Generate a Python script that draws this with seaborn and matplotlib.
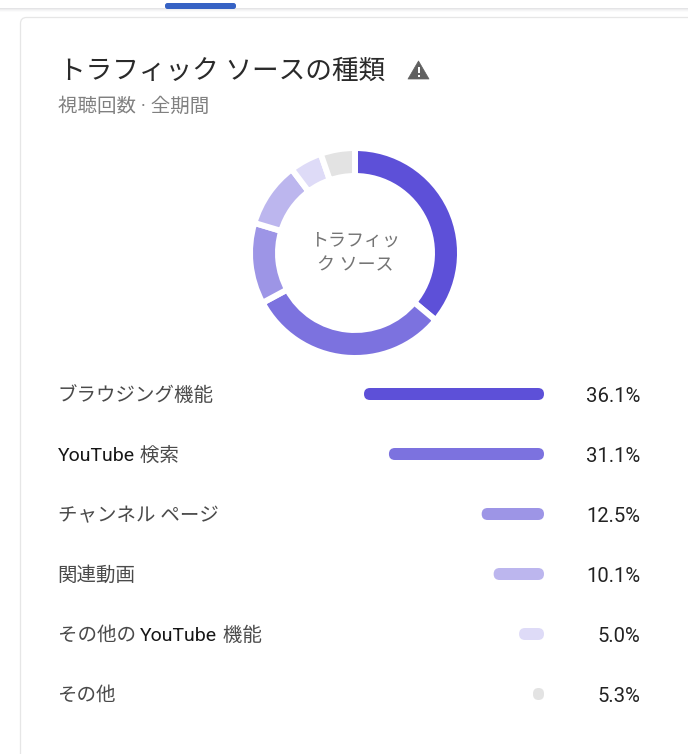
import matplotlib
matplotlib.use("Agg")
import matplotlib.pyplot as plt
from matplotlib.patches import FancyBboxPatch, Polygon, Rectangle
import pandas as pd
import re
import seaborn as sns

W, H = 688, 754

categories = ["ブラウジング機能", "YouTube 検索", "チャンネル ページ", "関連動画", "その他の YouTube 機能", "その他"]
shares = [36.1, 31.1, 12.5, 10.1, 5.0, 5.3]
# The last row is rendered as a short stub on the dashboard, whatever its share.
bar_lengths = [36.1, 31.1, 12.5, 10.1, 5.0, 2.2]
value_labels = ["36.1%", "31.1%", "12.5%", "10.1%", "5.0%", "5.3%"]
colors = ["#5D50D8", "#7C72DF", "#9D95E6", "#BCB6EE", "#DEDBF7", "#E3E3E3"]

sns.set_theme(style="white")
plt.rcParams["font.family"] = ["Roboto", "Noto Sans CJK JP", "DejaVu Sans"]

fig = plt.figure(figsize=(W / 100, H / 100), dpi=100, facecolor="white")


def px_axes(x0, y0, x1, y1, **kw):
    return fig.add_axes([x0 / W, 1 - y1 / H, (x1 - x0) / W, (y1 - y0) / H], **kw)


# Page chrome behind the card: header shadow, active tab marker, card outline.
bg = px_axes(0, 0, W, H)
bg.set_xlim(0, W)
bg.set_ylim(H, 0)
bg.axis("off")
for i, c in enumerate(["#E4E4E6", "#EEEEEF", "#F5F5F6", "#FBFBFB"]):
    bg.add_patch(Rectangle((0, 8 + i), W, 1, fc=c, ec="none"))
bg.add_patch(FancyBboxPatch((165, 3), 71, 6, boxstyle="round,pad=0,rounding_size=2.5", fc="#3662C4", ec="none"))
bg.add_patch(FancyBboxPatch((20.5, 17.5), 760, 800, boxstyle="round,pad=0,rounding_size=6", fc="white", ec="#E6E6E6", lw=0.9))

# Title block
bg.text(59, 71, "トラフィック ソースの種類", fontsize=19.2, color="#2A2A2A", va="center", ha="left")
bg.text(58, 107, "視聴回数 · 全期間", fontsize=14, color="#808080", va="center", ha="left")
bg.add_patch(Polygon([(408, 79), (429, 79), (418.5, 61)], closed=True, fc="#606060", ec="#606060", lw=0.5, joinstyle="round"))
bg.add_patch(Rectangle((417.5, 67), 2, 6, fc="white", ec="none"))
bg.add_patch(Rectangle((417.5, 74.5), 2, 2, fc="white", ec="none"))

# Donut of traffic shares
R = 105
donut = px_axes(355 - R, 253 - R, 355 + R, 253 + R)
donut.pie(
    shares,
    colors=colors,
    startangle=90,
    counterclock=False,
    radius=1,
    wedgeprops=dict(width=28 / R, edgecolor="white", linewidth=4.3),
)
donut.set_xlim(-1, 1)
donut.set_ylim(-1, 1)
bg.text(355, 241, "トラフィッ", fontsize=13, color="#747474", ha="center", va="center")
bg.text(355, 265, "ク ソース", fontsize=13, color="#747474", ha="center", va="center")

# Horizontal bars growing leftwards from a shared right edge
px_per_unit = 180 / 36.1
bars = px_axes(59, 364, 640, 724)
frame = pd.DataFrame({"source": categories, "length": bar_lengths})
sns.barplot(
    data=frame, x="length", y="source", hue="source", palette=colors,
    dodge=False, legend=False, width=0.2, saturation=1, ax=bars,
)
bars.set_xlim((544 - 59) / px_per_unit, -(640 - 544) / px_per_unit)
bars.set_ylim(5.5, -0.5)
bars.axis("off")

# Swap each square bar for a pill of the same geometry
y_units_per_px = 1 / 60
aspect = y_units_per_px * px_per_unit
for bar in list(bars.patches):
    x, y, w, h = bar.get_x(), bar.get_y(), bar.get_width(), bar.get_height()
    r = min(6 / px_per_unit, w / 2)
    bars.add_patch(FancyBboxPatch(
        (x, y), w, h, boxstyle=f"round,pad=0,rounding_size={r}",
        mutation_aspect=aspect, fc=bar.get_facecolor(), ec="none",
    ))
    bar.remove()

# Row labels: Latin runs are set darker than the kana and kanji around them
renderer = fig.canvas.get_renderer()
for i, (name, val) in enumerate(zip(categories, value_labels)):
    row_y = 394 + 60 * i
    cursor = 57.5
    for run in re.split(r"(YouTube)", name):
        if not run:
            continue
        shade = "#161616" if run == "YouTube" else "#4A4A4A"
        t = bg.text(cursor, row_y, run.replace(" ", "\u00a0"), fontsize=14, color=shade, ha="left", va="center_baseline")
        cursor += t.get_window_extent(renderer).width
    bg.text(640, row_y, val, fontsize=14.6, color="#222222", ha="right", va="center_baseline")

fig.savefig("out.png", dpi=100, facecolor="white")
